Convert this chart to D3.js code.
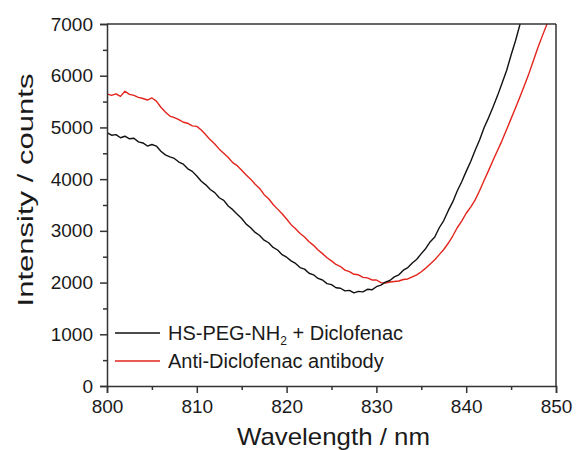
<!DOCTYPE html>
<html>
<head>
<meta charset="utf-8">
<script src="https://cdn.jsdelivr.net/npm/d3@7"></script>
<style>
  html, body { margin: 0; padding: 0; background: #fff; }
  svg { display: block; font-family: "Liberation Sans", Arial, sans-serif; }
</style>
</head>
<body>
<svg id="chart" width="576" height="450"></svg>
<script>
// ---- data ----
const wavelength = [
  800.0,800.5,801.0,801.5,802.0,802.5,803.0,803.5,804.0,804.5,
  805.0,805.5,806.0,806.5,807.0,807.5,808.0,808.5,809.0,809.5,
  810.0,810.5,811.0,811.5,812.0,812.5,813.0,813.5,814.0,814.5,
  815.0,815.5,816.0,816.5,817.0,817.5,818.0,818.5,819.0,819.5,
  820.0,820.5,821.0,821.5,822.0,822.5,823.0,823.5,824.0,824.5,
  825.0,825.5,826.0,826.5,827.0,827.5,828.0,828.5,829.0,829.5,
  830.0,830.5,831.0,831.5,832.0,832.5,833.0,833.5,834.0,834.5,
  835.0,835.5,836.0,836.5,837.0,837.5,838.0,838.5,839.0,839.5,
  840.0,840.5,841.0,841.5,842.0,842.5,843.0,843.5,844.0,844.5,
  845.0,845.5,846.0,846.5,847.0,847.5,848.0,848.5,849.0,849.5,850.0
];
const pegDiclofenac = [
  4900,4850,4860,4800,4830,4780,4790,4720,4700,4640,
  4670,4640,4540,4470,4430,4400,4330,4290,4200,4150,
  4060,3960,3890,3800,3740,3640,3590,3480,3410,3320,
  3240,3130,3060,2970,2910,2820,2770,2680,2630,2540,
  2490,2420,2370,2290,2260,2180,2150,2080,2050,1980,
  1960,1900,1890,1840,1850,1800,1830,1820,1870,1860,
  1920,1950,2010,2040,2110,2150,2240,2290,2380,2450,
  2560,2660,2790,2880,3060,3200,3390,3560,3770,3950,
  4150,4340,4560,4760,5000,5190,5400,5620,5860,6100,
  6400,6680,7000,7300,null,null,null,null,null,null,null
];
const antibody = [
  5650,5620,5650,5600,5700,5640,5620,5580,5560,5530,
  5570,5510,5390,5300,5220,5190,5150,5100,5080,5030,
  5020,4950,4860,4760,4680,4580,4500,4420,4320,4260,
  4170,4080,4000,3900,3820,3700,3620,3510,3420,3330,
  3230,3120,3040,2950,2880,2790,2720,2630,2560,2480,
  2420,2350,2310,2240,2210,2160,2150,2100,2090,2050,
  2050,2000,1990,2010,2020,2030,2060,2070,2110,2150,
  2210,2280,2360,2440,2540,2640,2760,2900,3060,3190,
  3340,3460,3600,3780,3980,4170,4370,4560,4750,4960,
  5170,5380,5600,5820,6050,6300,6550,6780,7000,7200,7400
];
const xTicks = [800, 810, 820, 830, 840, 850];
const xMinorTicks = [805, 815, 825, 835, 845];
const yTicks = [0, 1000, 2000, 3000, 4000, 5000, 6000, 7000];
const yMinorTicks = [500, 1500, 2500, 3500, 4500, 5500, 6500];
const seriesNames = ["HS-PEG-NH", "Anti-Diclofenac antibody"];
const seriesColors = ["#111111", "#e3241c"];

// ---- layout ----
const W = 576, H = 450;
const margin = { top: 24, right: 20, bottom: 64, left: 107 };
const iw = W - margin.left - margin.right;
const ih = H - margin.top - margin.bottom;
const axisColor = "#333";

const svg = d3.select("#chart");
const g = svg.append("g").attr("transform", `translate(${margin.left},${margin.top})`);

const x = d3.scaleLinear().domain([800, 850]).range([0, iw]);
const y = d3.scaleLinear().domain([0, 7000]).range([ih, 0]);

svg.append("defs").append("clipPath").attr("id", "clip")
  .append("rect").attr("x", 0).attr("y", 0).attr("width", iw).attr("height", ih);

// curves
const series = [pegDiclofenac, antibody];
const line = d3.line()
  .defined(d => d[1] !== null)
  .x(d => x(d[0])).y(d => y(d[1]));
const curves = g.append("g").attr("clip-path", "url(#clip)");
// draw red first, black on top? Reference: black drawn over red near crossing
[1, 0].forEach(i => {
  const pts = wavelength.map((w, k) => [w, series[i][k]]);
  curves.append("path")
    .attr("d", line(pts))
    .attr("fill", "none")
    .attr("stroke", seriesColors[i])
    .attr("stroke-width", 1.4)
    .attr("stroke-linejoin", "round");
});

// frame (top + right)
g.append("line").attr("x1", 0).attr("x2", iw).attr("y1", 0).attr("y2", 0)
  .attr("stroke", axisColor).attr("stroke-width", 1.5);
g.append("line").attr("x1", iw).attr("x2", iw).attr("y1", 0).attr("y2", ih)
  .attr("stroke", axisColor).attr("stroke-width", 1.5);

// minor ticks
const xMinor = g.append("g").attr("transform", `translate(0,${ih})`)
  .call(d3.axisBottom(x).tickValues(xMinorTicks).tickSize(4).tickFormat(""));
const yMinor = g.append("g")
  .call(d3.axisLeft(y).tickValues(yMinorTicks).tickSize(4).tickFormat(""));
[xMinor, yMinor].forEach(a => {
  a.select(".domain").remove();
  a.selectAll("line").attr("stroke", axisColor).attr("stroke-width", 1.5);
});

// major axes
const xAxis = g.append("g").attr("transform", `translate(0,${ih})`)
  .call(d3.axisBottom(x).tickValues(xTicks).tickSize(7).tickPadding(7).tickFormat(d3.format("d")));
const yAxis = g.append("g")
  .call(d3.axisLeft(y).tickValues(yTicks).tickSize(7).tickPadding(7).tickFormat(d3.format("d")));
[xAxis, yAxis].forEach(a => {
  a.select(".domain").attr("stroke", axisColor).attr("stroke-width", 1.5);
  a.selectAll("line").attr("stroke", axisColor).attr("stroke-width", 1.5);
  a.selectAll("text").attr("font-size", 19).attr("fill", "#1a1a1a")
    .attr("font-family", "'Liberation Sans', Arial, sans-serif");
});

// axis titles
svg.append("text")
  .attr("x", margin.left + iw / 2 + 2).attr("y", 445)
  .attr("text-anchor", "middle").attr("font-size", 24).attr("fill", "#1a1a1a")
  .attr("textLength", 193).attr("lengthAdjust", "spacingAndGlyphs")
  .text("Wavelength / nm");
svg.append("text")
  .attr("transform", "translate(33,190) rotate(-90)")
  .attr("text-anchor", "middle").attr("font-size", 22).attr("fill", "#1a1a1a")
  .attr("textLength", 233).attr("lengthAdjust", "spacingAndGlyphs")
  .text("Intensity / counts");

// legend
const leg = svg.append("g");
const legY = [333, 361];
[0, 1].forEach(i => {
  leg.append("line").attr("x1", 115).attr("x2", 160).attr("y1", legY[i]).attr("y2", legY[i])
    .attr("stroke", seriesColors[i]).attr("stroke-width", 1.6);
});
const t0 = leg.append("text").attr("x", 168).attr("y", legY[0] + 7)
  .attr("font-size", 20).attr("fill", "#1a1a1a");
t0.append("tspan").text(seriesNames[0]);
t0.append("tspan").attr("font-size", 12).attr("dy", 5).text("2");
t0.append("tspan").attr("dy", -5).text(" + Diclofenac");
leg.append("text").attr("x", 168).attr("y", legY[1] + 7)
  .attr("font-size", 20).attr("fill", "#1a1a1a").text(seriesNames[1]);
</script>
</body>
</html>
